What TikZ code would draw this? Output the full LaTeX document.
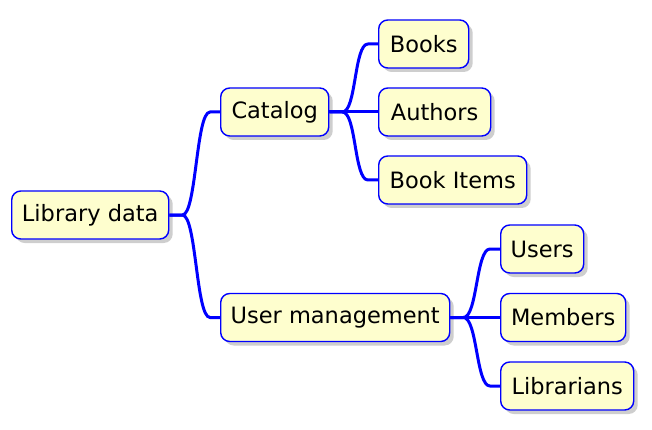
\documentclass[tikz,border=0pt]{standalone}
\usepackage{fontspec}
\setmainfont{DejaVu Sans}
\usetikzlibrary{shadows}
\definecolor{topicfill}{HTML}{FEFECE}
\tikzstyle{topic}  =[draw=blue, fill=topicfill, line width=1.4pt, rounded corners=9pt,
                     anchor=west, minimum height=48pt, inner xsep=8pt,
                     font=\fontsize{22.5}{24}\selectfont,
                     drop shadow={shadow xshift=4pt, shadow yshift=-4pt, fill=gray!70, opacity=.55}]
\tikzstyle{branche}=[draw=blue, line width=3pt, line join=round,
  to path={(\tikztostart) -- ++(13,0) .. controls +(14,0) and +(-14,0) .. ([xshift=-10pt]\tikztotarget) -- (\tikztotarget)}]

\begin{document}
\begin{tikzpicture}[x=1pt,y=-1pt]

\useasboundingbox (0,0) rectangle (652,430);

%%%%%%%%%%%%%%%%%%%%%%%%
%racine
%%%%%%%%%%%%%%%%%%%%%%%%
\node[topic, minimum width=157pt] (lib) at (11,215) {Library data};

%%%%%%%%%%%%%%%%%%%%%%%%
%niveau 1
%%%%%%%%%%%%%%%%%%%%%%%%
\node[topic, minimum width=108pt] (cat)  at (220,112) {Catalog};
\node[topic, minimum width=229pt] (user) at (220,317.5) {User management};

%%%%%%%%%%%%%%%%%%%%%%%%
%niveau 2
%%%%%%%%%%%%%%%%%%%%%%%%
\node[topic, minimum width=90pt]  (books)   at (378,44)  {Books};
\node[topic, minimum width=112pt] (authors) at (378,112) {Authors};
\node[topic, minimum width=148pt] (items)   at (378,180) {Book Items};

\node[topic, minimum width=83pt]  (users)   at (500,249) {Users};
\node[topic, minimum width=125pt] (members) at (500,317.5) {Members};
\node[topic, minimum width=133pt] (libr)    at (500,386) {Librarians};

%branches
\foreach \a/\b in {lib/cat,lib/user,cat/books,cat/authors,cat/items,user/users,user/members,user/libr}
  {\path[branche] (\a.east) to (\b.west);}

\end{tikzpicture}
\end{document}
